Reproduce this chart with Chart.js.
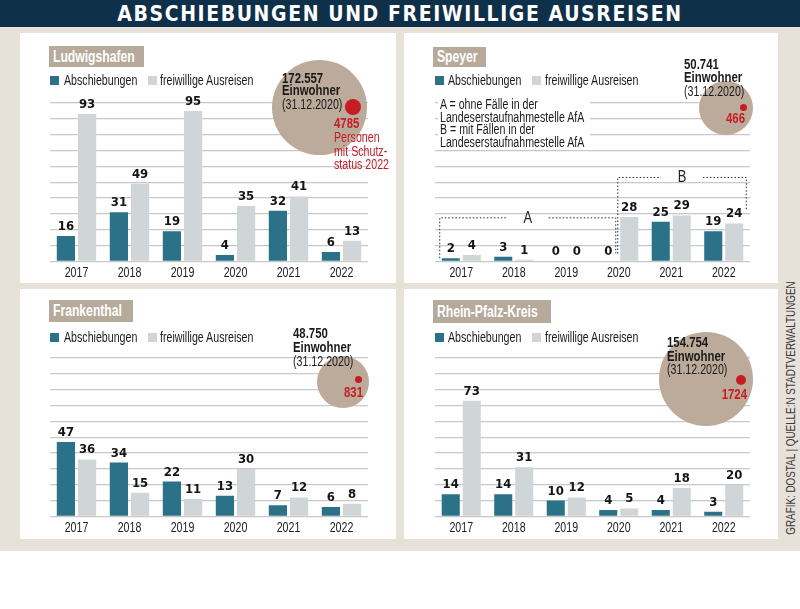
<!DOCTYPE html>
<html>
<head>
<meta charset="utf-8">
<script src="https://cdn.jsdelivr.net/npm/chart.js@4.4.1/dist/chart.umd.min.js"></script>
<style>
body { margin: 0; width: 800px; height: 609px; background: #fff; position: relative; overflow: hidden;
       font-family: 'Liberation Sans', Arial, sans-serif; color: #1a1a1a; }
#bg { position: absolute; left: 0; top: 0; width: 800px; height: 551px; background: #e6e1d9; }
#title { position: absolute; left: 0; top: 0; width: 800px; height: 27px; background: #0f3049; color: #fff;
         text-align: center; font: bold 21px 'DejaVu Sans Condensed', sans-serif; line-height: 28px; letter-spacing: 1.6px; }
#credit { position: absolute; left: 790px; top: 408px; white-space: nowrap; font-size: 13px; color: #3a3a3a; }
.panel { position: absolute; background: #fff; }
.panel canvas { position: absolute; left: 0; top: 0; }
.abs { position: absolute; white-space: nowrap; line-height: 16px; font-size: 14px; }
.abs span, .tag span { display: inline-block; transform: scaleX(0.76); transform-origin: left center; }
.abs.right span { transform-origin: right center; }
.tag { position: absolute; background: #b6aa9a; color: #fff; font-weight: bold; font-size: 16px; padding: 0 4px; box-sizing: border-box; white-space: nowrap; }
.sq { position: absolute; width: 9px; height: 9px; }
.circle { position: absolute; border-radius: 50%; background: #bcab9a; }
.dot { position: absolute; border-radius: 50%; background: #c41e24; }
.b { font-weight: bold; font-size: 15px; }
.red { color: #c41e24; }
.note { position: absolute; background: #fff; }
</style>
</head>
<body>
<div id="bg"></div>
<div id="title">ABSCHIEBUNGEN UND FREIWILLIGE AUSREISEN</div>
<div id="credit">GRAFIK: DOSTAL | QUELLE:N STADTVERWALTUNGEN</div>

<script>
// data
const years = ['2017', '2018', '2019', '2020', '2021', '2022'];
const seriesNames = ['Abschiebungen', 'freiwillige Ausreisen'];

const ludwigshafenAbsch = [16, 31, 19, 4, 32, 6];
const ludwigshafenFrei = [93, 49, 95, 35, 41, 13];
const speyerAbsch = [2, 3, 0, 0, 25, 19];
const speyerFrei = [4, 1, 0, 28, 29, 24];
const frankenthalAbsch = [47, 34, 22, 13, 7, 6];
const frankenthalFrei = [36, 15, 11, 30, 12, 8];
const rpkAbsch = [14, 14, 10, 4, 4, 3];
const rpkFrei = [73, 31, 12, 5, 18, 20];

const yMax = 100;
const yStep = 10;

const BLUE = '#2b7288';
const GRAY = '#d0d5d8';
const NARROW_X = 0.76; // Liberation Sans squeezed to look like a narrow face

function narrowText(ctx, str, x, y) {
    ctx.save();
    ctx.translate(x, y);
    ctx.scale(NARROW_X, 1);
    ctx.fillText(str, 0, 0);
    ctx.restore();
}

// numbers on top of the bars
const valueLabels = {
    id: 'valueLabels',
    afterDatasetsDraw(chart) {
        const ctx = chart.ctx;
        ctx.save();
        ctx.font = "bold 13px 'DejaVu Sans Condensed', sans-serif";
        ctx.fillStyle = '#141414';
        ctx.textAlign = 'center';
        chart.data.datasets.forEach((ds, i) => {
            chart.getDatasetMeta(i).data.forEach((bar, j) => {
                ctx.fillText(String(ds.data[j]), bar.x, bar.y - 6);
            });
        });
        ctx.restore();
    }
};

// year labels in a narrow look (the real tick labels are kept for layout but transparent)
const narrowTicks = {
    id: 'narrowTicks',
    afterDraw(chart) {
        const x = chart.scales.x, ctx = chart.ctx;
        ctx.save();
        ctx.font = "14px 'Liberation Sans', sans-serif";
        ctx.fillStyle = '#1e1e1e';
        ctx.textAlign = 'center';
        ctx.textBaseline = 'middle';
        x.ticks.forEach((t, i) => narrowText(ctx, chart.data.labels[i], x.getPixelForTick(i), chart.chartArea.bottom + 12));
        ctx.restore();
    }
};

// dotted A / B brackets in the Speyer panel
const speyerBrackets = {
    id: 'speyerBrackets',
    afterDatasetsDraw(chart) {
        const ctx = chart.ctx, x = chart.scales.x, y = chart.scales.y;
        const blue = chart.getDatasetMeta(0).data, gray = chart.getDatasetMeta(1).data;
        const gap = 21;

        function bracket(x0, x1, top, leftBottom, rightBottom, letter) {
            const yt = y.getPixelForValue(top);
            const mid = (x0 + x1) / 2;
            ctx.beginPath();
            ctx.moveTo(x0, y.getPixelForValue(leftBottom));
            ctx.lineTo(x0, yt);
            ctx.lineTo(mid - gap, yt);
            ctx.moveTo(mid + gap, yt);
            ctx.lineTo(x1, yt);
            ctx.lineTo(x1, y.getPixelForValue(rightBottom));
            ctx.stroke();
            narrowText(ctx, letter, mid, yt + 5);
        }

        ctx.save();
        ctx.strokeStyle = '#2a2a2a';
        ctx.lineWidth = 1;
        ctx.setLineDash([1.5, 2]);
        ctx.fillStyle = '#222';
        ctx.font = "17px 'Liberation Sans', sans-serif";
        ctx.textAlign = 'center';
        bracket(blue[0].x - blue[0].width / 2 - 2, x.getPixelForValue(3) - 3, 27.5, 2, 5, 'A');
        bracket(x.getPixelForValue(3) - 1, gray[5].x + gray[5].width / 2 + 3, 53, 5, 33, 'B');
        ctx.restore();
    }
};

function makeChart(canvas, absch, frei, pad, extraPlugins) {
    return new Chart(canvas, {
        type: 'bar',
        data: {
            labels: years,
            datasets: [
                { label: seriesNames[0], data: absch, backgroundColor: BLUE, categoryPercentage: 0.8, barPercentage: 0.86 },
                { label: seriesNames[1], data: frei, backgroundColor: GRAY, categoryPercentage: 0.8, barPercentage: 0.86 }
            ]
        },
        options: {
            responsive: false,
            animation: false,
            layout: { padding: pad },
            plugins: { legend: { display: false }, tooltip: { enabled: false } },
            scales: {
                x: {
                    grid: { display: false, drawTicks: false },
                    border: { display: false },
                    ticks: { color: 'rgba(0,0,0,0)', font: { family: 'Liberation Sans', size: 13 }, padding: 2 }
                },
                y: {
                    min: 0, max: yMax,
                    ticks: { display: false, stepSize: yStep },
                    grid: { color: '#c8c8c8', lineWidth: 1.3, drawTicks: false },
                    border: { display: false }
                }
            }
        },
        plugins: [valueLabels, narrowTicks].concat(extraPlugins || [])
    });
}

function el(parent, cls, css, html) {
    const d = document.createElement('div');
    d.className = cls;
    Object.assign(d.style, css);
    if (html !== undefined) {
        const s = document.createElement('span');
        s.textContent = html;
        d.appendChild(s);
    }
    parent.appendChild(d);
    return d;
}

function text(parent, str, x, y, cls, right) {
    const d = el(parent, 'abs ' + (cls || '') + (right ? ' right' : ''), { left: x + 'px', top: (y - 8) + 'px' }, str);
    if (right) d.style.transform = 'translateX(-100%)';
    return d;
}

const panels = [
    {
        name: 'Ludwigshafen', box: [20, 33, 376, 250], absch: ludwigshafenAbsch, frei: ludwigshafenFrei,
        pad: { left: 30, right: 28, top: 70, bottom: 2 },
        tag: [29, 13, 95, 21], legendY: 47, legendX: [30, 44, 128, 140],
        circle: [299, 74, 47.5], pop: ['172.557', 262, [45, 57, 71]],
        dot: [333, 74, 8],
        red: { x: 314, lines: [['4785', 90, true], ['Personen', 104], ['mit Schutz-', 118], ['status 2022', 131]] }
    },
    {
        name: 'Speyer', box: [404, 33, 374, 250], absch: speyerAbsch, frei: speyerFrei,
        pad: { left: 31, right: 28, top: 70, bottom: 2 },
        tag: [29, 14, 53, 20], legendY: 47, legendX: [31, 44, 128, 141],
        circle: [322, 75, 27], pop: ['50.741', 280, [31, 44, 58]],
        dot: [339, 74, 3.5],
        red: { x: 341, right: true, lines: [['466', 85, true]] },
        brackets: true
    },
    {
        name: 'Frankenthal', box: [20, 289, 376, 250], absch: frankenthalAbsch, frei: frankenthalFrei,
        pad: { left: 30, right: 28, top: 69, bottom: 3 },
        tag: [29, 11, 84, 22], legendY: 48, legendX: [30, 44, 128, 140],
        circle: [323, 93, 26], pop: ['48.750', 273, [44, 58, 72]],
        dot: [338, 90, 3.5],
        red: { x: 343, right: true, lines: [['831', 103, true]] }
    },
    {
        name: 'Rhein-Pfalz-Kreis', box: [404, 289, 374, 250], absch: rpkAbsch, frei: rpkFrei,
        pad: { left: 31, right: 28, top: 69, bottom: 3 },
        tag: [29, 11, 118, 23], legendY: 48, legendX: [31, 44, 128, 141],
        circle: [302, 90, 47], pop: ['154.754', 263, [53, 67, 80]],
        dot: [337, 91, 5],
        red: { x: 343, right: true, lines: [['1724', 105, true]] }
    }
];

panels.forEach(p => {
    const [left, top, w, h] = p.box;
    const div = el(document.body, 'panel', { left: left + 'px', top: top + 'px', width: w + 'px', height: h + 'px' });
    const canvas = document.createElement('canvas');
    canvas.width = w;
    canvas.height = h;
    div.appendChild(canvas);
    makeChart(canvas, p.absch, p.frei, p.pad, p.brackets ? [speyerBrackets] : []);

    // label tag
    const [tx, ty, tw, th] = p.tag;
    el(div, 'tag', { left: tx + 'px', top: ty + 'px', width: tw + 'px', height: th + 'px', lineHeight: th + 'px' }, p.name);

    // legend
    const [s1, t1, s2, t2] = p.legendX;
    el(div, 'sq', { left: s1 + 'px', top: (p.legendY - 4) + 'px', background: BLUE });
    text(div, seriesNames[0], t1, p.legendY);
    el(div, 'sq', { left: s2 + 'px', top: (p.legendY - 4) + 'px', background: GRAY });
    text(div, seriesNames[1], t2, p.legendY);

    // Speyer note
    if (p.brackets) {
        el(div, 'note', { left: '34px', top: '63px', width: '152px', height: '52px' });
        const lines = ['A = ohne Fälle in der', 'Landeserstaufnahmestelle AfA', 'B = mit Fällen in der', 'Landeserstaufnahmestelle AfA'];
        lines.forEach((l, i) => text(div, l, 36, 71 + i * 12.5));
    }

    // population circle
    const [cx, cy, r] = p.circle;
    el(div, 'circle', { left: (cx - r) + 'px', top: (cy - r) + 'px', width: 2 * r + 'px', height: 2 * r + 'px' });
    const [popNum, px, py] = p.pop;
    text(div, popNum, px, py[0], 'b');
    text(div, 'Einwohner', px, py[1], 'b');
    text(div, '(31.12.2020)', px, py[2]);
    const [dx, dy, dr] = p.dot;
    el(div, 'dot', { left: (dx - dr) + 'px', top: (dy - dr) + 'px', width: 2 * dr + 'px', height: 2 * dr + 'px' });
    p.red.lines.forEach(([s, y, bold]) => text(div, s, p.red.x, y, 'red' + (bold ? ' b' : ''), p.red.right));
});

// credit line: squeeze to the height of the panels and turn it upright
const credit = document.getElementById('credit');
const k = 253 / credit.offsetWidth;
credit.style.transform = `translate(-50%, -50%) rotate(-90deg) scaleX(${k})`;
</script>
</body>
</html>
